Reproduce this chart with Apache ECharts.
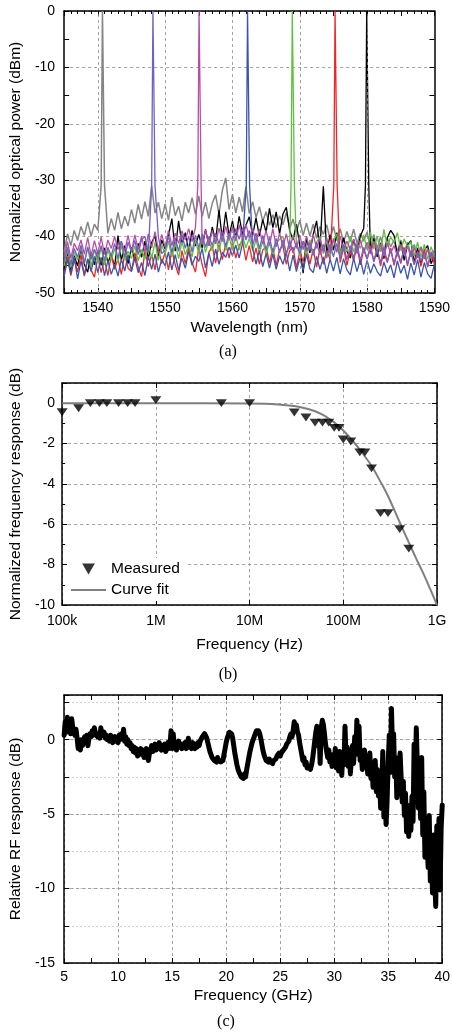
<!DOCTYPE html>
<html><head><meta charset="utf-8">
<script src="https://cdn.jsdelivr.net/npm/echarts@6/dist/echarts.min.js"></script>
<style>html,body{margin:0;padding:0;background:#fff}#c{width:453px;height:1032px}</style>
</head><body><div id="c"></div>
<script>
// ---------------- Panel (a): optical spectra ----------------
const wlStart = 1535, wlStep = 0.5;
const aXLabels = [1540, 1550, 1560, 1570, 1580, 1590];
const aGridWl = [1540, 1550, 1560, 1570, 1580];
const traceNames = ['ch1', 'ch2', 'ch3', 'ch4', 'ch5', 'ch6', 'ch7'];
const peakWl = { gray: 1540.75, purple: 1548.25, magenta: 1555.1, blue: 1562.3, green: 1568.95, red: 1575.3, black: 1580.0 };
const peakOffset = [-0.25, -0.06, 0.06, 0.25];
const peakLevel = [-31, 0, 0, -31];

const grayNoise = [
 -42.8,-39.5,-41.6,-38.9,-40.7,-38.2,-39.8,-37.4,-39.9,-37.8,
 -38.9,-36.5,-37.2,-39.4,-36.8,-38.9,-35.7,-38.6,-36.4,-38.1,
 -35.2,-37.6,-34.3,-36.9,-33.8,-36.4,-31.0,-35.8,-33.9,-36.8,
 -34.2,-37.1,-33.0,-36.3,-34.6,-37.2,-33.9,-35.8,-33.1,-36.0,
 -32.8,-36.4,-33.9,-36.8,-34.1,-32.6,-36.0,-31.8,-29.6,-35.2,
 -32.5,-35.8,-33.0,-35.6,-31.2,-35.9,-33.8,-36.6,-34.7,-37.3,
 -35.6,-38.0,-36.1,-38.4,-36.3,-37.9,-35.7,-38.6,-36.9,-39.2,
 -37.1,-39.8,-37.6,-39.9,-37.8,-40.3,-38.2,-39.6,-37.9,-40.5,
 -38.2,-40.7,-38.6,-41.0,-39.1,-40.9,-38.7,-41.2,-39.4,-40.8,
 -39.2,-41.9,-39.6,-42.1,-40.0,-42.4,-40.3,-41.8,-40.6,-42.7,
 -40.6,-42.9,-41.0,-43.2,-41.4,-43.5,-41.8,-43.9,-42.2,-44.1,
 -42.8];
const blackNoise = [
 -45.9,-42.6,-46.1,-43.4,-45.2,-42.1,-44.9,-46.3,-42.8,-45.0,
 -42.4,-45.1,-42.0,-44.6,-43.1,-45.4,-39.8,-44.2,-41.6,-44.8,
 -41.9,-44.3,-41.2,-43.7,-40.8,-43.9,-41.0,-39.9,-43.5,-40.6,
 -42.2,-39.8,-36.8,-42.6,-37.2,-41.4,-39.3,-42.5,-38.9,-41.7,
 -39.6,-42.0,-38.7,-41.6,-38.3,-40.8,-35.3,-40.5,-35.6,-39.9,
 -37.2,-40.3,-36.4,-39.6,-38.0,-36.5,-39.8,-36.7,-39.9,-37.0,
 -39.2,-35.0,-38.4,-35.6,-39.5,-36.0,-34.8,-38.9,-40.6,-37.8,
 -41.5,-46.5,-40.2,-42.9,-39.6,-37.2,-42.3,-31.1,-42.9,-39.7,
 -42.4,-39.3,-43.1,-40.2,-42.6,-43.8,-40.5,-42.8,-39.9,-38.5,
 -40.0,-42.9,-40.3,-43.6,-41.1,-43.9,-40.2,-38.9,-39.8,-43.4,
 -40.9,-44.2,-41.5,-40.7,-44.6,-42.0,-45.0,-42.4,-41.6,-44.8,
 -43.4];
const redNoise = [
 -46.8,-43.6,-46.9,-44.1,-46.3,-43.2,-47.0,-44.0,-45.9,-47.2,
 -43.7,-46.4,-44.0,-46.9,-43.3,-45.8,-43.9,-46.7,-43.1,-45.6,
 -46.2,-42.9,-45.4,-47.1,-42.6,-45.3,-43.2,-45.9,-42.2,-44.8,
 -42.8,-45.9,-42.3,-45.0,-46.8,-42.5,-44.8,-41.9,-44.6,-46.3,
 -42.0,-45.0,-47.1,-42.8,-41.7,-44.7,-41.4,-44.1,-41.2,-43.8,
 -40.9,-43.8,-41.5,-40.8,-44.2,-41.6,-44.5,-42.0,-44.9,-42.4,
 -41.8,-44.7,-42.1,-45.1,-42.3,-41.6,-44.9,-42.5,-41.9,-45.5,
 -42.7,-44.4,-41.9,-44.9,-42.2,-45.4,-42.0,-44.9,-42.5,-44.0,
 -40.0,-43.2,-44.6,-41.9,-45.1,-42.4,-44.2,-41.7,-45.0,-42.3,
 -44.0,-41.6,-44.5,-42.3,-45.2,-42.8,-44.6,-42.0,-45.1,-42.7,
 -44.8,-41.9,-45.2,-42.5,-44.9,-42.6,-45.3,-42.2,-45.4,-42.9,
 -44.9];
const blueNoise = [
 -47.0,-44.1,-46.6,-43.6,-47.5,-44.3,-46.8,-43.9,-46.2,-43.5,
 -46.4,-43.7,-46.9,-44.2,-46.7,-44.9,-47.0,-44.0,-46.1,-43.2,
 -46.1,-43.8,-46.4,-44.6,-46.9,-43.5,-45.8,-43.1,-46.3,-44.0,
 -45.2,-42.7,-45.9,-43.2,-46.0,-43.8,-45.6,-42.6,-45.1,-43.5,
 -44.4,-42.1,-45.6,-42.9,-45.3,-42.2,-44.9,-42.8,-43.7,-41.9,
 -43.4,-41.5,-43.8,-41.2,-42.2,-44.6,-42.1,-44.9,-42.5,-45.3,
 -43.0,-45.6,-43.1,-45.8,-43.4,-44.9,-42.8,-46.1,-43.3,-46.2,
 -43.8,-46.0,-43.1,-45.7,-46.4,-43.5,-45.8,-43.6,-46.5,-44.0,
 -46.1,-43.7,-46.6,-43.9,-45.9,-46.8,-43.8,-46.2,-44.0,-46.7,
 -44.2,-46.5,-44.8,-46.2,-47.0,-44.5,-46.4,-45.0,-47.3,-44.3,
 -46.5,-45.1,-47.6,-44.7,-46.8,-44.1,-47.2,-44.6,-46.6,-47.4,
 -44.9];
const greenNoise = [
 -45.2,-42.3,-45.5,-42.7,-44.1,-42.0,-44.6,-41.8,-45.3,-42.2,
 -44.6,-41.9,-45.0,-42.4,-44.2,-42.1,-44.5,-41.6,-44.1,-42.6,
 -43.9,-41.6,-44.3,-42.3,-44.0,-41.2,-43.8,-41.0,-44.2,-41.5,
 -43.1,-40.8,-43.6,-41.2,-43.9,-40.9,-43.2,-41.5,-43.6,-40.6,
 -43.0,-40.2,-42.8,-40.6,-42.5,-40.1,-42.6,-39.8,-42.4,-40.1,
 -42.3,-39.7,-42.4,-39.9,-42.0,-40.3,-42.5,-40.6,-42.9,-40.8,
 -43.1,-41.0,-43.4,-41.2,-40.5,-40.0,-43.1,-41.5,-43.6,-41.3,
 -43.3,-40.9,-43.5,-40.6,-43.2,-41.0,-39.9,-43.0,-40.7,-43.6,
 -40.8,-39.5,-43.0,-41.3,-42.6,-39.9,-42.7,-41.2,-42.1,-39.7,
 -42.4,-39.2,-42.2,-39.9,-42.7,-38.7,-41.8,-40.1,-41.0,-39.3,
 -42.5,-40.4,-41.8,-40.9,-43.5,-41.0,-43.7,-41.4,-44.0,-41.8,
 -43.6];
const magentaNoise = [
 -43.6,-40.9,-43.8,-41.2,-42.5,-40.6,-43.1,-40.2,-43.4,-40.7,
 -43.0,-40.1,-43.2,-40.6,-42.1,-40.0,-42.3,-40.8,-42.6,-39.8,
 -42.7,-39.7,-42.3,-39.9,-42.8,-39.5,-42.0,-39.1,-42.4,-39.6,
 -41.9,-38.9,-41.6,-39.4,-41.2,-39.0,-40.6,-38.6,-40.9,-38.4,
 -39.0,-41.4,-38.8,-41.6,-38.9,-41.3,-38.5,-40.9,-38.2,-40.5,
 -38.3,-40.8,-37.9,-40.4,-37.8,-40.2,-38.6,-40.9,-38.7,-41.3,
 -38.9,-41.6,-38.6,-41.8,-39.4,-41.9,-39.5,-42.2,-39.8,-42.1,
 -39.7,-42.3,-39.9,-42.5,-39.6,-42.1,-40.3,-42.6,-40.2,-42.9,
 -40.3,-42.8,-39.9,-42.5,-40.8,-42.3,-40.4,-43.0,-40.6,-42.9,
 -41.0,-43.1,-40.8,-42.7,-41.3,-43.4,-41.1,-43.0,-41.6,-43.5,
 -41.4,-43.2,-41.7,-43.6,-42.0,-43.8,-41.9,-44.0,-42.2,-43.9,
 -42.3];
const purpleNoise = [
 -44.4,-41.8,-44.9,-42.1,-43.6,-41.5,-44.8,-41.9,-44.0,-42.3,
 -43.7,-41.6,-44.2,-41.9,-43.4,-41.2,-43.9,-40.8,-43.6,-41.0,
 -42.8,-40.7,-43.2,-40.5,-40.0,-42.9,-40.8,-42.5,-40.1,-43.0,
 -42.4,-39.9,-42.8,-40.2,-42.6,-39.6,-42.1,-39.9,-42.7,-39.8,
 -42.0,-39.5,-41.9,-40.0,-41.6,-39.4,-41.3,-39.0,-41.8,-39.3,
 -40.9,-38.6,-40.5,-38.4,-40.6,-38.9,-41.6,-39.4,-42.2,-39.8,
 -42.4,-40.1,-42.8,-40.3,-42.9,-40.6,-43.1,-40.7,-42.9,-41.1,
 -43.0,-40.8,-42.6,-41.2,-43.3,-41.0,-43.2,-41.4,-43.8,-41.3,
 -43.6,-41.2,-43.9,-41.4,-44.1,-41.6,-43.8,-41.3,-44.2,-41.9,
 -44.0,-42.0,-44.3,-42.2,-44.7,-41.9,-44.4,-42.3,-44.8,-42.4,
 -44.5,-42.2,-44.9,-42.6,-45.0,-42.8,-44.3,-43.0,-45.2,-42.7,
 -44.0];

// ---------------- Panel (b): frequency response ----------------
const bTickValues = [1e5, 1e6, 1e7, 1e8, 1e9];
const bTickLabels = ['100k', '1M', '10M', '100M', '1G'];
const measFreq = [1e5,1.5e5,2e5,2.5e5,3e5,4e5,5e5,6e5,1e6,5e6,1e7,3e7,4e7,5e7,6e7,7e7,8e7,9e7,1e8,1.2e8,1.5e8,1.7e8,2e8,2.5e8,3e8,4e8,5e8];
const measResp = [-0.45,-0.25,0,0,0,0,0,0,0.15,0,0,-0.46,-0.71,-0.96,-0.96,-0.96,-1.22,-1.22,-1.8,-1.9,-2.44,-2.44,-3.23,-5.45,-5.45,-6.24,-7.21];
const fitFreq = [1e5,1e6,1e7,2e7,3e7,4e7,5e7,6e7,7e7,8e7,1e8,1.25e8,1.5e8,2e8,2.5e8,3e8,4e8,5e8,6e8,7e8,8e8,9e8,1e9];
const fitResp = [0,0,-0.02,-0.06,-0.14,-0.26,-0.4,-0.57,-0.76,-0.95,-1.35,-1.85,-2.3,-3.1,-3.9,-4.6,-5.9,-6.9,-7.7,-8.35,-8.95,-9.5,-10];

// ---------------- Panel (c): relative RF response ----------------
const rfStart = 5, rfStep = 0.1;
const cYLabels = [-15, -10, -5, 0];
const rfResp = [
0.3,1.2,0.5,1.5,0.6,1.3,0.4,1.4,0.8,0.9,
0.3,0.7,0.1,-0.6,-0.3,-0.7,0.0,-0.4,-0.5,0.2,
-0.2,0.3,-0.4,0.1,0.4,0.2,0.6,0.3,0.8,0.4,
0.5,0.2,0.4,0.1,0.8,0.3,0.2,0.5,0.1,0.3,
0.0,0.2,-0.1,0.3,0.1,-0.2,0.0,0.2,-0.1,0.1,
-0.2,0.3,0.0,0.4,0.1,0.7,-0.1,0.2,-0.3,0.0,
-0.4,-0.2,-0.6,-0.4,-0.8,-0.5,-0.9,-0.6,-1.1,-0.7,
-0.9,-0.6,-1.0,-0.7,-1.2,-0.8,-0.6,-1.0,-1.4,-0.9,
-0.7,-0.4,-0.8,-0.5,-0.3,-0.7,-0.4,-0.6,-0.2,-0.5,
-0.7,-0.4,-0.6,-0.3,-0.8,-0.5,-0.2,-0.6,-0.4,0.6,
-0.6,0.4,-0.5,-0.2,-0.7,-0.4,-0.1,-0.5,-0.3,-0.6,
-0.3,-0.5,-0.2,-0.6,-0.4,0.1,-0.5,-0.3,-0.6,-0.2,
-0.4,-0.6,-0.3,-0.5,-0.2,-0.4,-0.1,0.0,0.2,0.3,
0.4,0.3,0.1,-0.2,-0.5,-0.8,-1.0,-1.2,-1.3,-1.4,
-1.3,-1.5,-1.2,-1.4,-1.3,-1.5,-1.6,-1.4,-1.0,-0.6,
-0.2,0.1,0.3,0.5,0.6,0.4,0.1,-0.4,-0.9,-1.3,
-1.7,-2.0,-2.2,-2.3,-2.5,-2.4,-2.6,-2.3,-2.5,-2.0,
-1.6,-1.2,-0.8,-0.5,-0.2,0.0,0.2,0.4,0.6,0.5,
0.6,0.4,0.1,-0.3,-0.7,-1.0,-1.2,-1.4,-1.3,-1.5,
-1.3,-1.5,-1.4,-1.6,-1.4,-1.5,-1.3,-1.1,-1.2,-0.9,
-1.1,-0.9,-1.0,-0.7,-0.8,-0.5,-0.3,-0.4,-0.1,0.2,
0.4,0.2,0.6,1.2,0.8,1.0,0.5,0.3,-0.2,-0.6,
-1.0,-1.4,-1.2,-1.7,-1.5,-1.9,-2.0,-1.8,-2.0,-1.7,
-1.3,-0.7,-0.1,0.5,0.9,-0.4,0.6,-1.6,0.8,1.3,
1.0,0.4,-0.3,-0.8,-1.2,-0.7,-1.5,-1.0,-1.8,-1.2,
-1.6,-0.6,-1.9,-1.0,-2.1,-0.8,-1.4,-2.4,-0.9,-1.7,
0.9,-1.2,-0.5,-1.8,-0.9,-2.3,-1.1,-0.4,-1.6,0.2,
-1.0,1.3,-0.6,0.9,-1.4,-0.8,-2.0,-1.2,-0.7,-1.8,
-1.1,-2.3,-1.5,-0.9,-2.6,-1.9,-3.2,-2.1,-1.4,-3.5,
-2.0,-3.8,-2.7,-4.6,-3.3,-0.8,-5.2,-3.0,-5.7,-4.1,
-1.5,0.3,-2.2,2.1,-0.6,0.4,-2.5,-1.2,-3.9,-1.8,
-3.1,-0.9,-2.6,-4.2,-2.8,-5.1,-3.6,-6.2,-4.4,-6.5,
-4.9,-6.1,-3.8,-5.5,-0.3,-3.4,0.8,-1.9,-4.6,-2.2,
-5.3,-1.2,-6.4,-3.5,-7.9,-5.8,-6.9,-8.6,-5.1,-9.5,
-7.2,-10.3,-6.4,-9.1,-11.2,-5.8,-8.7,-5.3,-10.1,-6.0,
-4.4];

// ---------------- build ----------------
function buildTrace(noise, peak) {
  const pts = [];
  for (let i = 0; i < noise.length; i++) {
    const wl = +(wlStart + i * wlStep).toFixed(2);
    if (Math.abs(wl - peak) < 0.3) continue;
    pts.push([wl, noise[i]]);
  }
  for (let j = 0; j < peakOffset.length; j++) pts.push([peak + peakOffset[j], peakLevel[j]]);
  pts.sort((a, b) => a[0] - b[0]);
  return pts;
}
const rfData = rfResp.map((v, i) => [+(rfStart + i * rfStep).toFixed(2), v]);

const font = "'Liberation Sans', Arial, sans-serif";
const tick = { show: true, inside: true, length: 5, lineStyle: { color: '#000', width: 1 } };
const axLine = { show: true, onZero: false, lineStyle: { color: '#000', width: 1.5 } };
const dashGrid = { show: true, lineStyle: { color: '#8c8c8c', width: 0.8, type: [3, 3] } };
const lightGrid = { show: true, lineStyle: { color: '#c4c4c4', width: 0.8, type: [2, 2] } };
const lbl = (fmt, margin) => ({ show: true, formatter: fmt, fontSize: 14, color: '#000', fontFamily: font, margin: margin });
const nameStyle = { fontSize: 15.5, color: '#000', fontFamily: font };
const noLbl = { show: false };
const minorA = { show: true, splitNumber: 5, length: 3, lineStyle: { color: '#000', width: 1 } };

const option = {
  animation: false,
  backgroundColor: '#fff',
  grid: [
    { left: 62, top: 11, width: 378, height: 282 },
    { left: 61, top: 383, width: 376, height: 222 },
    { left: 59, top: 695, width: 385, height: 268 }
  ],
  xAxis: [
    { gridIndex: 0, type: 'value', position: 'bottom', min: 1535, max: 1590, interval: 5,
      axisLine: axLine, axisTick: tick, minorTick: minorA,
      axisLabel: lbl(v => aXLabels.includes(Math.round(v)) ? String(Math.round(v)) : '', 8),
      splitLine: { show: false }, name: 'Wavelength (nm)', nameLocation: 'middle', nameGap: 27, nameTextStyle: nameStyle },
    { gridIndex: 0, type: 'value', position: 'top', min: 1535, max: 1590, interval: 5,
      axisLine: axLine, axisTick: tick, minorTick: minorA,
      axisLabel: noLbl, splitLine: { show: false } },
    { gridIndex: 1, type: 'log', logBase: 10, position: 'bottom', min: 1e5, max: 1e9,
      axisLine: axLine, axisTick: tick,
      axisLabel: lbl(v => { const k = bTickValues.findIndex(t => Math.abs(Math.log10(t) - Math.log10(v)) < 1e-6); return k >= 0 ? bTickLabels[k] : ''; }, 9),
      splitLine: dashGrid, name: 'Frequency (Hz)', nameLocation: 'middle', nameGap: 32, nameTextStyle: nameStyle },
    { gridIndex: 1, type: 'log', logBase: 10, position: 'top', min: 1e5, max: 1e9,
      axisLine: axLine, axisTick: tick,
      axisLabel: noLbl, splitLine: { show: false } },
    { gridIndex: 2, type: 'value', position: 'bottom', min: 5, max: 40, interval: 5,
      axisLine: axLine, axisTick: tick, minorTick: { show: true, splitNumber: 2, length: 5, lineStyle: { color: '#000', width: 1 } },
      axisLabel: lbl(v => String(v), 7),
      splitLine: dashGrid, name: 'Frequency (GHz)', nameLocation: 'middle', nameGap: 25, nameTextStyle: nameStyle },
    { gridIndex: 2, type: 'value', position: 'top', min: 5, max: 40, interval: 5,
      axisLine: axLine, axisTick: tick, minorTick: { show: true, splitNumber: 2, length: 5, lineStyle: { color: '#000', width: 1 } },
      axisLabel: noLbl, splitLine: { show: false } }
  ],
  yAxis: [
    { gridIndex: 0, type: 'value', position: 'left', min: -50, max: 0, interval: 10,
      axisLine: axLine, axisTick: tick, minorTick: { show: true, splitNumber: 2, length: 5, lineStyle: { color: '#000', width: 1 } },
      axisLabel: lbl(v => String(v), 9), splitLine: dashGrid,
      name: 'Normalized optical power (dBm)', nameLocation: 'middle', nameGap: 32, nameTextStyle: nameStyle },
    { gridIndex: 0, type: 'value', position: 'right', min: -50, max: 0, interval: 10,
      axisLine: axLine, axisTick: tick, minorTick: { show: true, splitNumber: 2, length: 5, lineStyle: { color: '#000', width: 1 } },
      axisLabel: noLbl, splitLine: { show: false } },
    { gridIndex: 1, type: 'value', position: 'left', min: -10, max: 1, interval: 2,
      axisLine: axLine, axisTick: tick, minorTick: { show: true, splitNumber: 2, length: 3, lineStyle: { color: '#000', width: 1 } },
      axisLabel: lbl(v => (v <= 0 ? String(v) : ''), 7), splitLine: dashGrid,
      name: 'Normalized frequency response (dB)', nameLocation: 'middle', nameGap: 30, nameTextStyle: nameStyle },
    { gridIndex: 1, type: 'value', position: 'right', min: -10, max: 1, interval: 2,
      axisLine: axLine, axisTick: tick, minorTick: { show: true, splitNumber: 2, length: 3, lineStyle: { color: '#000', width: 1 } },
      axisLabel: noLbl, splitLine: { show: false } },
    { gridIndex: 2, type: 'value', position: 'left', min: -15, max: 3, interval: 2.5,
      axisLine: axLine, axisTick: tick,
      axisLabel: lbl(v => (cYLabels.includes(v) ? String(v) : ''), 9), splitLine: lightGrid,
      name: 'Relative RF response (dB)', nameLocation: 'middle', nameGap: 34, nameTextStyle: nameStyle },
    { gridIndex: 2, type: 'value', position: 'right', min: -15, max: 3, interval: 2.5,
      axisLine: axLine, axisTick: tick, axisLabel: noLbl, splitLine: { show: false } },
    { gridIndex: 2, type: 'value', position: 'left', min: -15, max: 3, interval: 5,
      axisLine: { show: false }, axisTick: { show: false }, axisLabel: noLbl, splitLine: dashGrid }
  ],
  legend: {
    data: [
      { name: 'Measured' },
      { name: 'Curve fit', icon: 'path://M0,0L35,0L35,2.2L0,2.2Z' }
    ],
    orient: 'vertical', left: 67, top: 558,
    backgroundColor: '#fff', padding: [3, 6, 3, 4], itemWidth: 35, itemHeight: 11, itemGap: 5,
    textStyle: { fontSize: 15.5, color: '#000', fontFamily: font }
  },
  graphic: [
    { type: 'text', x: 228, y: 352, style: { text: '(a)', fontSize: 16, fontFamily: "'Liberation Serif', serif", fill: '#000', align: 'center', verticalAlign: 'middle' } },
    { type: 'text', x: 228, y: 675, style: { text: '(b)', fontSize: 16, fontFamily: "'Liberation Serif', serif", fill: '#000', align: 'center', verticalAlign: 'middle' } },
    { type: 'text', x: 226, y: 1022, style: { text: '(c)', fontSize: 16, fontFamily: "'Liberation Serif', serif", fill: '#000', align: 'center', verticalAlign: 'middle' } }
  ],
  series: []
};

// vertical grid lines for panel (a)
option.series.push({
  type: 'line', xAxisIndex: 0, yAxisIndex: 0, data: [], z: 1, silent: true,
  markLine: { silent: true, symbol: 'none', label: { show: false }, animation: false,
    lineStyle: { color: '#8c8c8c', width: 0.8, type: [3, 3] },
    data: aGridWl.map(v => ({ xAxis: v })) }
});

const traces = [
  { noise: grayNoise, peak: peakWl.gray, color: '#858585', w: 1.5 },
  { noise: blackNoise, peak: peakWl.black, color: '#000000', w: 1.3 },
  { noise: redNoise, peak: peakWl.red, color: '#f02626', w: 1.3 },
  { noise: greenNoise, peak: peakWl.green, color: '#5cc13e', w: 1.3 },
  { noise: blueNoise, peak: peakWl.blue, color: '#3a53ad', w: 1.3 },
  { noise: magentaNoise, peak: peakWl.magenta, color: '#b84ca6', w: 1.3 },
  { noise: purpleNoise, peak: peakWl.purple, color: '#7360c4', w: 1.3 }
];
traces.forEach((t, i) => {
  option.series.push({
    name: traceNames[i], type: 'line', xAxisIndex: 0, yAxisIndex: 0, z: 2,
    data: buildTrace(t.noise, t.peak), showSymbol: false, symbol: 'none',
    lineStyle: { color: t.color, width: t.w }, itemStyle: { color: t.color }
  });
});

option.series.push({
  name: 'Curve fit', type: 'line', xAxisIndex: 2, yAxisIndex: 2, z: 2,
  data: fitFreq.map((f, i) => [f, fitResp[i]]), symbol: 'none', smooth: 0.3,
  lineStyle: { color: '#7f7f7f', width: 2 }, itemStyle: { color: '#7f7f7f' }
});
option.series.push({
  name: 'Measured', type: 'scatter', xAxisIndex: 2, yAxisIndex: 2, z: 3,
  data: measFreq.map((f, i) => [f, measResp[i]]),
  symbol: 'path://M0,0L10,0L5,8.7Z', symbolSize: [11, 9], symbolKeepAspect: true,
  itemStyle: { color: '#000' }
});
option.series.push({
  name: 'rf', type: 'line', xAxisIndex: 4, yAxisIndex: 4, z: 2,
  data: rfData, symbol: 'none',
  lineStyle: { color: '#000', width: 5, join: 'round', cap: 'round' }
});

const chart = echarts.init(document.getElementById('c'), null, { renderer: 'canvas', width: 453, height: 1032 });
chart.setOption(option);
</script>
</body></html>
